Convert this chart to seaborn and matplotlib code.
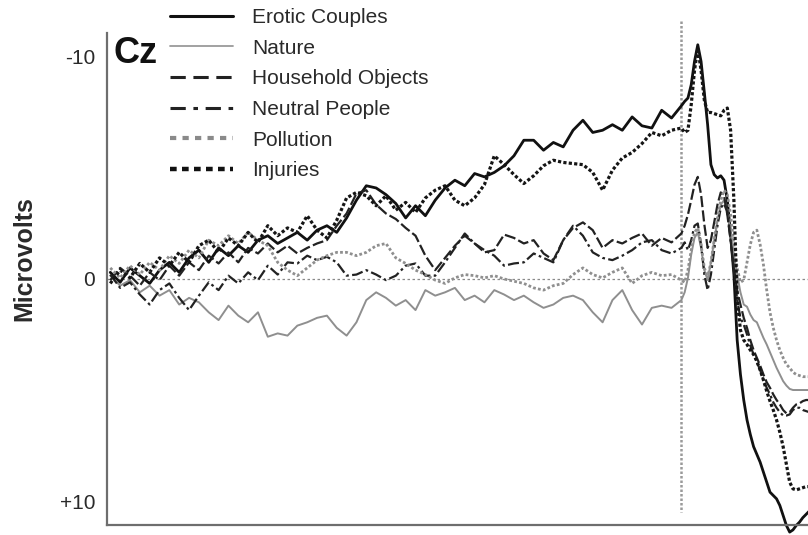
import matplotlib
matplotlib.use("Agg")
import matplotlib.pyplot as plt
from matplotlib.lines import Line2D
from matplotlib.ticker import FixedLocator
import seaborn as sns
import pandas as pd

# ---------------- data ----------------
time_ms = [-1740, -1710, -1680, -1650, -1620, -1590, -1560, -1530, -1500, -1470,
           -1440, -1410, -1380, -1350, -1320, -1290, -1260, -1230, -1200, -1170,
           -1140, -1110, -1080, -1050, -1020, -990, -960, -930, -900, -870,
           -840, -810, -780, -750, -720, -690, -660, -630, -600, -570,
           -540, -510, -480, -450, -420, -390, -360, -330, -300, -270,
           -240, -210, -180, -150, -120, -90, -60, -30, 0,
           10, 20, 30, 40, 50, 60, 70, 80, 90, 100,
           110, 120, 130, 140, 150, 160, 170, 180, 190, 200,
           210, 220, 230, 240, 250, 260, 270, 280, 290, 300,
           310, 320, 330, 340, 350, 360, 370, 380, 390]

erotic_couples = [-0.3, 0.15, -0.5, -0.15, 0.2, -0.4, -0.75, -0.3, -0.95, -1.3,
                  -0.75, -1.4, -1.05, -1.5, -1.2, -1.75, -1.95, -1.6, -1.85, -2.1,
                  -1.75, -2.2, -2.4, -2.1, -2.75, -3.55, -4.2, -4.1, -3.8, -3.4,
                  -2.75, -3.3, -2.85, -3.55, -4.1, -4.45, -4.2, -4.75, -4.6, -4.8,
                  -5.1, -5.55, -6.25, -6.25, -5.8, -6.15, -5.95, -6.7, -7.15, -6.6,
                  -6.7, -6.95, -6.7, -7.3, -6.9, -6.8, -7.6, -7.25, -7.8,
                  -8.0, -8.15, -8.75, -9.8, -10.55, -9.8, -8.4, -6.95, -5.15, -4.7,
                  -4.55, -4.65, -4.45, -3.55, -2.0, -0.2, 2.75, 4.3, 5.45, 6.35,
                  7.0, 7.55, 7.9, 8.25, 8.7, 9.15, 9.6, 9.75, 9.9, 10.2,
                  10.65, 11.1, 11.4, 11.3, 11.1, 10.95, 10.75, 10.6, 10.45]

nature = [-0.15, 0.3, 0.05, 0.6, 0.3, 0.75, 0.5, 1.15, 0.85, 1.05,
          1.5, 1.85, 1.2, 1.65, 1.95, 1.5, 2.6, 2.45, 2.55, 2.1,
          1.95, 1.75, 1.65, 2.2, 2.55, 1.95, 0.95, 0.6, 0.85, 1.2,
          0.95, 1.4, 0.5, 0.75, 0.6, 0.4, 0.95, 0.75, 1.05, 0.5,
          0.7, 0.95, 0.75, 1.05, 1.3, 1.15, 0.85, 0.75, 0.95, 1.5,
          1.95, 0.95, 0.5, 1.4, 2.05, 1.3, 1.2, 1.3, 0.95,
          0.6, -0.05, -1.1, -1.85, -2.1, -1.4, -0.4, 0.05, -0.75, -1.75,
          -2.65, -3.35, -3.55, -3.0, -2.1, -1.1, -0.2, 0.6, 1.15, 1.25,
          1.6, 1.85, 1.95, 2.3, 2.65, 2.95, 3.3, 3.65, 4.0, 4.3,
          4.6, 4.8, 4.95, 5.0, 5.0, 5.0, 5.0, 5.0, 5.0]

household_objects = [0.05, -0.5, -0.15, 0.3, -0.3, 0.05, -0.6, -0.15, -0.75, -0.4,
                     -1.05, -0.7, -1.2, -0.75, -1.4, -1.15, -1.6, -1.2, -1.5, -1.15,
                     -1.4, -1.6, -1.75, -2.4, -2.95, -3.85, -4.0, -3.35, -2.95, -2.7,
                     -2.3, -1.95, -1.05, -0.4, -0.95, -1.5, -1.95, -1.6, -1.2, -1.3,
                     -2.0, -1.85, -1.6, -1.75, -1.15, -0.85, -1.75, -2.3, -2.55, -2.2,
                     -1.4, -1.75, -1.6, -1.85, -2.05, -1.5, -1.85, -1.65, -2.05,
                     -2.4, -2.9, -3.55, -4.25, -4.6, -3.8, -2.45, -1.4, -1.75, -2.55,
                     -3.35, -3.9, -3.75, -2.9, -1.75, -0.5, 0.5, 1.15, 1.75, 2.2,
                     2.75, 3.2, 3.55, 3.9, 4.3, 4.65, 4.9, 5.2, 5.45, 5.65,
                     5.9, 6.05, 6.0, 5.8, 5.65, 5.6, 5.5, 5.45, 5.45]

neutral_people = [-0.2, 0.4, 0.15, 0.7, 1.15, 0.5, 0.2, 0.85, 1.4, 0.75,
                  0.15, 0.5, -0.15, 0.2, -0.3, 0.05, -0.6, -0.2, -0.75, -0.7,
                  -1.05, -0.85, -1.0, -0.75, -0.15, -0.2, -0.4, -0.2, 0.05, -0.15,
                  -0.6, -0.7, -0.15, -0.15, -0.75, -1.4, -2.05, -1.6, -1.3, -1.05,
                  -0.6, -0.7, -0.75, -1.15, -0.95, -0.75, -1.75, -2.4, -1.95, -1.2,
                  -0.95, -0.85, -1.05, -1.3, -1.65, -1.75, -1.3, -1.15, -1.4,
                  -1.65, -1.3, -1.75, -2.4, -2.5, -1.55, -0.2, 0.5, -0.2, -1.3,
                  -2.4, -3.2, -3.4, -3.0, -1.75, -0.4, 0.95, 1.75, 2.05, 2.5,
                  3.0, 3.4, 3.75, 4.1, 4.55, 4.9, 5.2, 5.55, 5.8, 6.0,
                  6.15, 6.15, 6.1, 5.9, 5.8, 5.8, 5.9, 5.95, 6.0]

pollution = [-0.5, -0.05, -0.6, -0.2, -0.75, -0.4, -1.05, -0.7, -1.3, -0.95,
             -1.75, -1.5, -1.95, -1.6, -2.1, -1.75, -1.5, -0.75, -0.4, -0.15,
             -0.5, -0.85, -1.05, -1.2, -1.2, -1.05, -1.2, -1.5, -1.6, -0.95,
             -0.7, -0.4, -0.2, 0.05, 0.2, -0.05, -0.2, -0.15, -0.05, -0.15,
             0.0, 0.1, 0.2, 0.4, 0.5, 0.3, 0.2, -0.2, -0.5, -0.2,
             -0.05, -0.3, -0.5, 0.2, -0.15, -0.3, -0.15, -0.2, 0.05,
             0.15, -0.4, -1.3, -2.1, -2.3, -1.55, -0.5, -0.05, -0.75, -1.75,
             -2.75, -3.55, -4.0, -3.8, -2.9, -1.55, -0.5, 0.15, 0.05, -0.75,
             -1.55, -2.1, -2.2, -1.55, -0.65, 0.5, 1.5, 2.2, 2.75, 3.2,
             3.55, 3.85, 4.0, 4.2, 4.3, 4.35, 4.4, 4.4, 4.4]

injuries = [0.2, -0.4, -0.05, -0.7, -0.3, -0.95, -0.6, -1.2, -0.75, -1.5,
            -1.75, -1.2, -1.85, -1.5, -2.1, -1.65, -2.4, -1.95, -2.3, -2.1,
            -2.85, -2.2, -1.85, -2.65, -3.65, -3.9, -3.75, -3.3, -3.75, -3.1,
            -3.45, -3.0, -3.65, -4.0, -4.2, -3.55, -3.3, -3.65, -4.25, -5.55,
            -5.15, -4.7, -4.3, -4.65, -5.1, -5.35, -5.25, -5.2, -5.15, -4.8,
            -4.0, -4.9, -5.45, -5.7, -6.1, -6.6, -6.45, -6.7, -6.8,
            -6.6, -6.7, -7.85, -9.4, -10.4, -9.4, -8.05, -7.5, -7.5, -7.45,
            -7.4, -7.35, -7.6, -7.7, -6.7, -3.55, 0.95, 2.3, 2.75, 2.95,
            3.2, 3.4, 3.7, 4.1, 4.55, 5.05, 5.5, 5.9, 6.35, 6.9,
            7.55, 8.35, 9.15, 9.45, 9.5, 9.45, 9.4, 9.35, 9.35]

conditions = ["Erotic Couples", "Nature", "Household Objects",
              "Neutral People", "Pollution", "Injuries"]
series = [erotic_couples, nature, household_objects, neutral_people,
          pollution, injuries]
ytick_values = [-10, 0, 10]
ytick_labels = ["-10", "0", "+10"]
channel = "Cz"
ylabel = "Microvolts"

# ---------------- styles ----------------
styles = {
    "Erotic Couples":    dict(color="#111111", lw=2.0, ls="-"),
    "Nature":            dict(color="#8f8f8f", lw=1.4, ls="-"),
    "Household Objects": dict(color="#222222", lw=1.6, ls=(0, (5, 1.5))),
    "Neutral People":    dict(color="#222222", lw=1.6, ls=(0, (5, 1.5, 1.2, 1.5))),
    "Pollution":         dict(color="#8f8f8f", lw=2.0, ls=(0, (1, 0.8))),
    "Injuries":          dict(color="#151515", lw=2.3, ls=(0, (1, 0.7))),
}
legend_styles = {
    "Erotic Couples":    dict(color="#111111", lw=2.2, ls="-"),
    "Nature":            dict(color="#9a9a9a", lw=1.3, ls="-"),
    "Household Objects": dict(color="#222222", lw=2.2, ls=(0, (5, 2.5))),
    "Neutral People":    dict(color="#222222", lw=2.2, ls=(0, (5, 2.5, 1.5, 2.5))),
    "Pollution":         dict(color="#8a8a8a", lw=3.0, ls=(0, (1.5, 1.5))),
    "Injuries":          dict(color="#111111", lw=3.2, ls=(0, (1.5, 1.2))),
}

# ---------------- figure ----------------
sns.set_style("white")
plt.rcParams["font.family"] = ["Liberation Sans", "DejaVu Sans"]

W, H = 808, 535
fig = plt.figure(figsize=(W / 100, H / 100), dpi=100)
ax = fig.add_axes([107 / W, 10 / H, 705 / W, 492 / H])

for name, vals in zip(conditions, series):
    st = styles[name]
    df = pd.DataFrame({"time": time_ms, "uV": vals})
    sns.lineplot(data=df, x="time", y="uV", ax=ax, color=st["color"],
                 linewidth=st["lw"], linestyle=st["ls"], errorbar=None,
                 estimator=None, sort=False, clip_on=False)

ax.set_xlim(-1750, 398)
ax.set_ylim(11.08, -11.08)

# reference lines
ax.axhline(0, color="#8a8a8a", lw=0.9, ls=(0, (2, 2)), zorder=0)
vl = ax.vlines(0, -11.6, 10.5, colors="#9a9a9a", linewidth=1.8,
               linestyles=[(0, (1, 0.8))], zorder=0)
vl.set_clip_on(False)

# axes styling
for s in ["top", "right"]:
    ax.spines[s].set_visible(False)
for s in ["left", "bottom"]:
    ax.spines[s].set_color("#6e6e6e")
    ax.spines[s].set_linewidth(1.6)

ax.set_yticks(ytick_values)
ax.set_yticklabels(ytick_labels)
ax.yaxis.set_minor_locator(FixedLocator([-10, -8, -6, -4, -2, 2, 4, 6, 8, 10]))
ax.tick_params(axis="y", which="major", length=0, pad=8.5, labelsize=15,
               labelcolor="#2a2a2a")
ax.tick_params(axis="y", which="minor", direction="in", length=3, width=0.8,
               color="#999999")
ax.xaxis.set_major_locator(FixedLocator(list(range(-1700, 400, 100))))
ax.tick_params(axis="x", which="major", direction="in", length=3, width=0.9,
               color="#999999", labelbottom=False)
ax.set_xlabel("")
ax.set_ylabel("")

fig.text(24 / W, 1 - 259 / H, ylabel, rotation=90, fontsize=18,
         fontweight="bold", ha="center", va="center", color="#2a2a2a")
fig.text(113 / W, 1 - 63 / H, channel, fontsize=26, fontweight="bold",
         ha="left", va="baseline", color="#111111")

handles = [Line2D([0], [0], color=legend_styles[n]["color"],
                  lw=legend_styles[n]["lw"], ls=legend_styles[n]["ls"])
           for n in conditions]
fig.legend(handles, conditions, loc="upper left",
           bbox_to_anchor=(170 / W, 1 - 8 / H), frameon=False, fontsize=15,
           handlelength=3.0, handletextpad=0.95, labelspacing=0.56,
           borderpad=0, borderaxespad=0, labelcolor="#2a2a2a")

fig.savefig("out.png", dpi=100)
